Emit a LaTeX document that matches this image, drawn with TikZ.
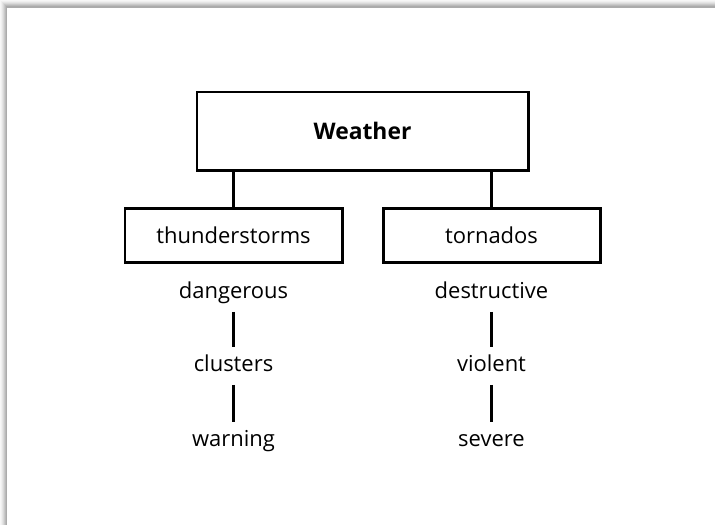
\documentclass[tikz,border=0pt]{standalone}
\usepackage{fontspec}
\setmainfont{Open Sans}
\usetikzlibrary{positioning}
\tikzset{
  topbox/.style={draw,line width=1.7pt,minimum width=6.62cm,minimum height=1.56cm,
    font=\fontsize{13}{15}\selectfont\bfseries},
  subbox/.style={draw,line width=1.7pt,minimum width=4.34cm,minimum height=1.08cm,
    font=\fontsize{12.5}{15}\selectfont},
  word/.style={inner sep=0pt,minimum height=0.74cm,text height=1.6ex,text depth=.5ex,
    font=\fontsize{12.5}{15}\selectfont},
  link/.style={line width=1.7pt}
}
\begin{document}
\begin{tikzpicture}
  \useasboundingbox (0,0) rectangle (14.3,-10.5);
  % page with its shadow
  \foreach \i/\c in {0/3,1/6,2/10,3/15,4/21,5/27,6/33}
    \fill[black!\c] ({\i*0.02},{-\i*0.02}) rectangle (14.3,-10.5);
  \fill[white] (0.14,-0.16) rectangle (14.3,-10.5);

  \node[topbox] (weather) at (7.25,-2.62) {Weather};
  \node[subbox] (thunder) at (4.67,-4.70) {thunderstorms};
  \node[subbox] (tornado) at (9.83,-4.70) {tornados};
  \draw[link] (thunder.north) -- (thunder.north |- weather.south);
  \draw[link] (tornado.north) -- (tornado.north |- weather.south);

  \node[word] (dangerous) at (4.67,-5.86) {dangerous};
  \node[word] (clusters) at (4.67,-7.32) {clusters};
  \node[word] (warning) at (4.67,-8.82) {warning};
  \draw[link] (dangerous) -- (clusters);
  \draw[link] (clusters) -- (warning);

  \node[word] (destructive) at (9.83,-5.86) {destructive};
  \node[word] (violent) at (9.83,-7.32) {violent};
  \node[word] (severe) at (9.83,-8.82) {severe};
  \draw[link] (destructive) -- (violent);
  \draw[link] (violent) -- (severe);
\end{tikzpicture}
\end{document}
